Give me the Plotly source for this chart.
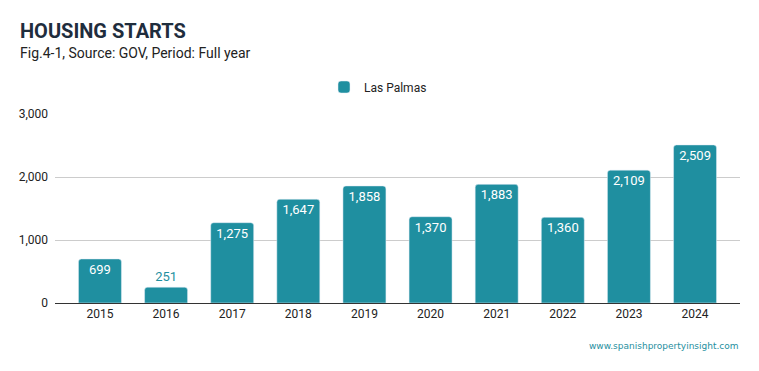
import plotly.graph_objects as go

years = ["2015", "2016", "2017", "2018", "2019", "2020", "2021", "2022", "2023", "2024"]
starts = [699, 251, 1275, 1647, 1858, 1370, 1883, 1360, 2109, 2509]
series_name = "Las Palmas"
bar_color = "#1f8fa0"

labels = [f"{v:,}" for v in starts]
positions = ["outside" if v < 400 else "inside" for v in starts]

# page body has an 8px margin; work in screen pixels and convert
OFF = 8
W, H = 743, 355
L, R, T, B = 55 - OFF, W - (740 - OFF), 114 - OFF, H - (303 - OFF)
plot_h = H - T - B
plot_w = W - L - R

def py(screen_y):
    return (H - B - (screen_y - OFF)) / plot_h

def px(screen_x):
    return ((screen_x - OFF) - L) / plot_w

fig = go.Figure()
fig.add_trace(go.Bar(
    x=years, y=starts, name=series_name,
    marker=dict(color=bar_color, cornerradius=3),
    width=0.65,
    text=labels, textposition=positions,
    insidetextanchor="end",
    outsidetextfont=dict(color=bar_color, size=13, family="Roboto"),
    insidetextfont=dict(color="white", size=13, family="Roboto"),
    cliponaxis=False,
    showlegend=True,
))

fig.update_layout(
    width=W, height=H,
    margin=dict(l=L, r=R, t=T, b=B, pad=0),
    paper_bgcolor="white", plot_bgcolor="white",
    font=dict(family="Roboto", color="#222"),
    uniformtext=dict(minsize=13),
    legend=dict(orientation="h", x=px(378), xanchor="center", y=py(87), yanchor="middle",
                font=dict(size=12, color="#222")),
    xaxis=dict(range=[-0.68, 9.68], showgrid=False, showline=True, linecolor="#333", linewidth=1,
               ticks="", tickfont=dict(size=12, color="#222")),
    yaxis=dict(range=[0, 3000], tickvals=[0, 1000, 2000, 3000], tickformat=",",
               showgrid=True, gridcolor="#cccccc", zeroline=False, showline=False,
               ticks="", tickfont=dict(size=12, color="#222"), ticklabelstandoff=6),
    annotations=[
        dict(text="<b>HOUSING STARTS</b>", xref="paper", yref="paper", x=px(18), y=py(31),
             xanchor="left", yanchor="middle", showarrow=False,
             font=dict(size=20, color="#1f2d3d", family="Roboto")),
        dict(text="Fig.4-1, Source: GOV, Period: Full year", xref="paper", yref="paper", x=px(18),
             y=py(53), xanchor="left", yanchor="middle", showarrow=False,
             font=dict(size=14, color="#222", family="Roboto")),
        dict(text="www.spanishpropertyinsight.com", xref="paper", yref="paper", x=px(741),
             y=py(346), xanchor="right", yanchor="middle", showarrow=False,
             font=dict(size=9, color="#1f8fa0", family="Verdana, DejaVu Sans")),
    ],
)

fig.write_html("out.html")
